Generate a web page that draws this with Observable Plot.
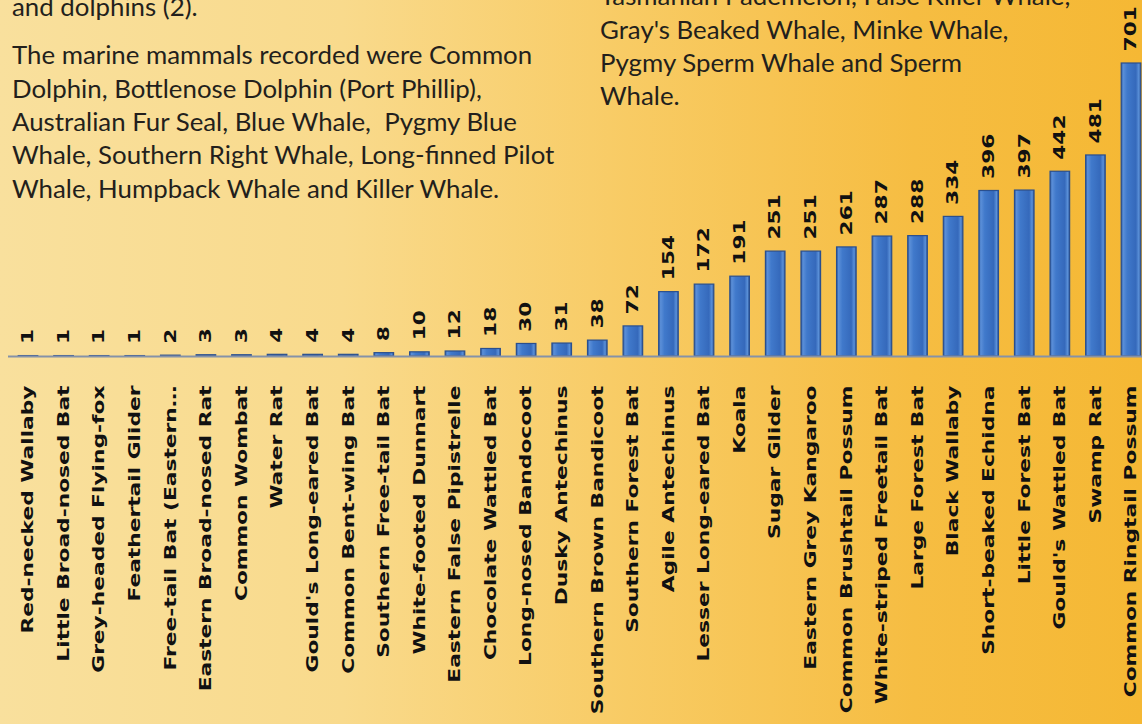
<!DOCTYPE html>
<html>
<head>
<meta charset="utf-8">
<script src="https://cdn.jsdelivr.net/npm/d3@7"></script>
<script src="https://cdn.jsdelivr.net/npm/@observablehq/plot@0.6"></script>
<style>
  html, body { margin: 0; padding: 0; }
  #wrap {
    position: relative; width: 1142px; height: 724px; overflow: hidden;
    background: linear-gradient(90deg, #f9e09d 0%, #f9da8c 30%, #f8cb64 55%, #f6bd42 80%, #f5b834 100%);
  }
  #chart { position: absolute; left: 0; top: 0; }
  .line {
    position: absolute; white-space: pre; line-height: 0; height: 0;
    font-family: Lato, "Open Sans", sans-serif; color: #231f1c;
  }
</style>
</head>
<body>
<div id="wrap"><div id="chart"></div></div>
<script>
const species = [
  "Red-necked Wallaby", "Little Broad-nosed Bat", "Grey-headed Flying-fox", "Feathertail Glider",
  "Free-tail Bat (Eastern…", "Eastern Broad-nosed Rat", "Common Wombat", "Water Rat",
  "Gould's Long-eared Bat", "Common Bent-wing Bat", "Southern Free-tail Bat", "White-footed Dunnart",
  "Eastern False Pipistrelle", "Chocolate Wattled Bat", "Long-nosed Bandocoot", "Dusky Antechinus",
  "Southern Brown Bandicoot", "Southern Forest Bat", "Agile Antechinus", "Lesser Long-eared Bat",
  "Koala", "Sugar Glider", "Eastern Grey Kangaroo", "Common Brushtail Possum",
  "White-striped Freetail Bat", "Large Forest Bat", "Black Wallaby", "Short-beaked Echidna",
  "Little Forest Bat", "Gould's Wattled Bat", "Swamp Rat", "Common Ringtail Possum"
];
const counts = [1, 1, 1, 1, 2, 3, 3, 4, 4, 4, 8, 10, 12, 18, 30, 31, 38, 72, 154, 172, 191, 251, 251, 261, 287, 288, 334, 396, 397, 442, 481, 701];

const leftParagraph1 = ["and dolphins (2)."];
const leftParagraph2 = [
  "The marine mammals recorded were Common",
  "Dolphin, Bottlenose Dolphin (Port Phillip),",
  "Australian Fur Seal, Blue Whale,  Pygmy Blue",
  "Whale, Southern Right Whale, Long-finned Pilot",
  "Whale, Humpback Whale and Killer Whale."
];
const rightParagraph = [
  "Tasmanian Pademelon, False Killer Whale,",
  "Gray's Beaked Whale, Minke Whale,",
  "Pygmy Sperm Whale and Sperm",
  "Whale."
];

const data = species.map((s, i) => ({species: s, count: counts[i]}));

const gradientDefs = () => {
  const defs = d3.create("svg:defs");
  const g = defs.append("linearGradient").attr("id", "barGrad")
    .attr("x1", 0).attr("x2", 1).attr("y1", 0).attr("y2", 0);
  [[0, "#2b5aa3"], [0.1, "#5b8fd8"], [0.3, "#4079cb"], [0.75, "#3569bb"], [0.9, "#5a90d8"], [1, "#2a5499"]]
    .forEach(([o, c]) => g.append("stop").attr("offset", o).attr("stop-color", c));
  return defs.node();
};

const chart = Plot.plot({
  width: 1142,
  height: 724,
  marginTop: 0,
  marginLeft: 8,
  marginRight: 0,
  marginBottom: 368,
  style: {background: "transparent", overflow: "visible", fontFamily: "'DejaVu Sans', Verdana, sans-serif"},
  x: {domain: species, range: [2.2, 1156.8], padding: 0.45, round: false, label: null, axis: null},
  y: {domain: [0, 701], range: [356, 63], label: null, axis: null},
  marks: [
    gradientDefs,
    Plot.barY(data, {x: "species", y: "count", fill: "url(#barGrad)", stroke: "#2a4f8e", strokeWidth: 1.2}),
    Plot.ruleY([0], {stroke: "#8592a8", strokeWidth: 1.8}),
    Plot.text(data, {x: "species", y: "count", text: d => String(d.count), rotate: -90,
      textAnchor: "start", dy: -12, fontSize: 15, fontWeight: "bold", fill: "#111"}),
    Plot.axisX({tickRotate: -90, tickSize: 0, tickPadding: 29, fontSize: 15, fontWeight: "bold",
      label: null, fill: "#111"})
  ]
});
document.getElementById("chart").appendChild(chart);

// Stretch all rotated texts along their length to match the reference
d3.select(chart).selectAll('g[aria-label="x-axis tick label"] text, g[aria-label="text"] text').each(function() {
  const t = this.getAttribute("transform") || "";
  this.setAttribute("transform", t + " scale(1.45,1)");
});
d3.select(chart).selectAll('g[aria-label="x-axis tick label"] text').attr("font-weight", "bold");

// Text paragraphs
const wrap = document.getElementById("wrap");
const ctx = document.createElement("canvas").getContext("2d");
ctx.font = "100px Lato";
const fs = 100 * 521 / ctx.measureText(leftParagraph2[0]).width;
function place(lines, x, y0, lh) {
  lines.forEach((txt, i) => {
    const d = document.createElement("div");
    d.className = "line";
    d.textContent = txt;
    d.style.fontSize = fs + "px";
    d.style.left = x + "px";
    d.style.top = (y0 + i * lh - 0.1 * fs) + "px";
    wrap.appendChild(d);
  });
}
place(leftParagraph1, 12, 9, 33.3);
place(leftParagraph2, 12, 57, 33.3);
place(rightParagraph, 600, -2, 33.3);
</script>
</body>
</html>
